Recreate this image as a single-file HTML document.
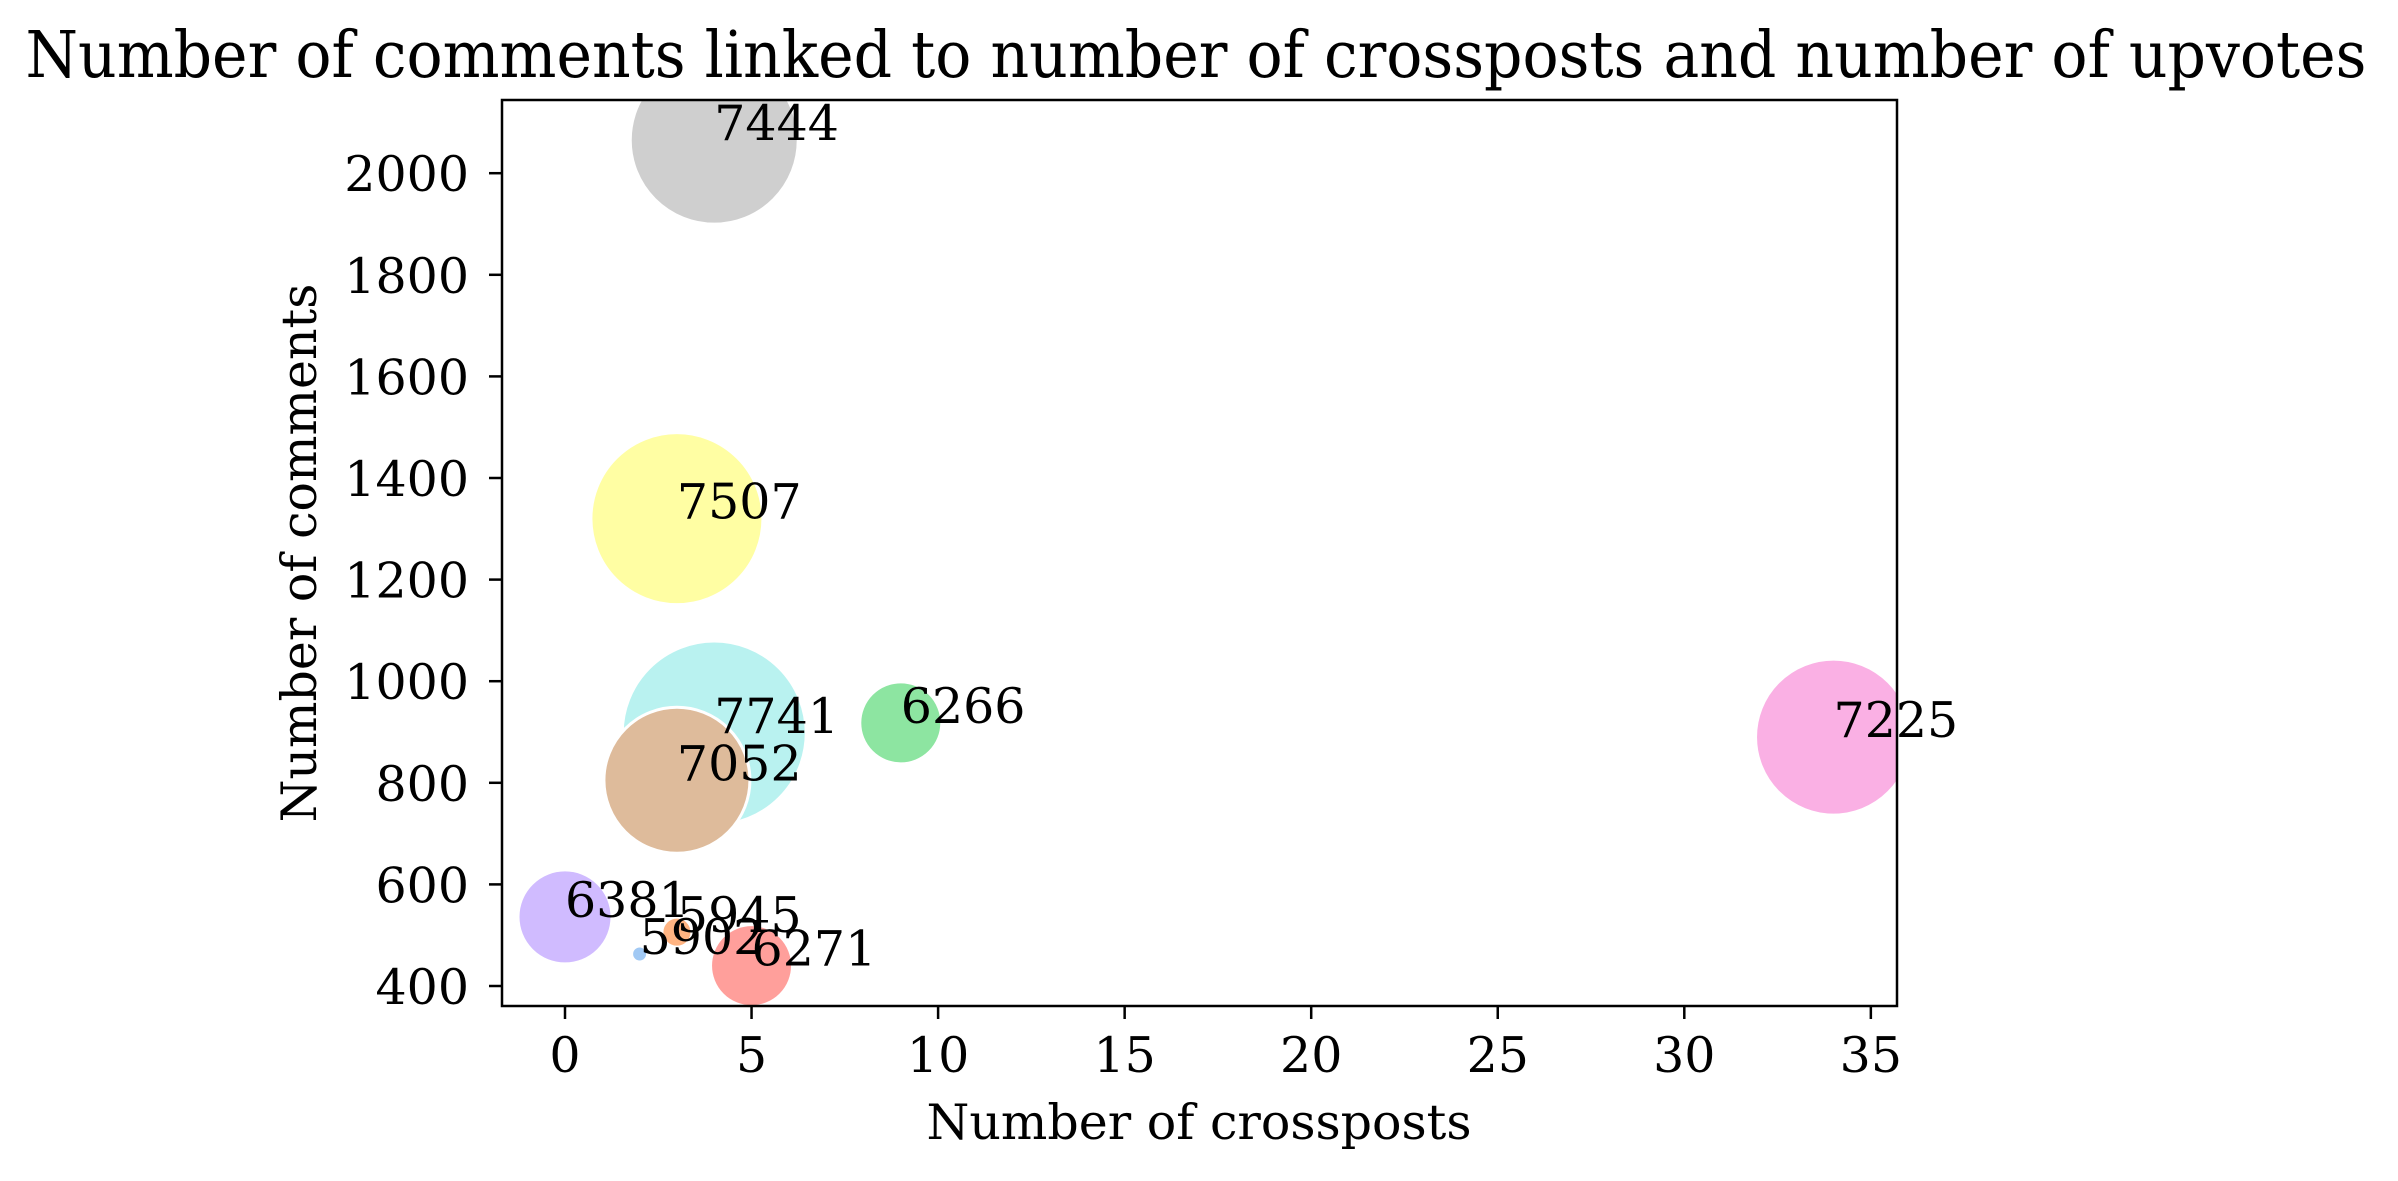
<!DOCTYPE html>
<html><head><meta charset="utf-8"><style>
html,body{margin:0;padding:0;background:#fff;width:2398px;height:1181px;overflow:hidden}
svg text{font-family:"DejaVu Serif","Liberation Serif",serif;fill:#000}
</style></head><body>
<svg id="chart" width="2398" height="1181" xmlns="http://www.w3.org/2000/svg">
<defs><clipPath id="plotclip"><rect x="502" y="100" width="1395" height="906"/></clipPath></defs>
<text x="1196" y="77" font-size="65" text-anchor="middle" textLength="2341" lengthAdjust="spacingAndGlyphs">Number of comments linked to number of crossposts and number of upvotes</text>
<g id="marks" clip-path="url(#plotclip)"></g>
<g id="labels"></g>
<rect x="502" y="100" width="1395" height="906" fill="none" stroke="#000" stroke-width="2.5"/>
<g id="xaxis"></g>
<g id="yaxis"></g>
<text x="1199" y="1139" font-size="49" text-anchor="middle">Number of crossposts</text>
<text x="0" y="0" font-size="49" text-anchor="middle" transform="translate(316,553) rotate(-90)">Number of comments</text>
</svg>
<script>
const labels = ["5902","5945","6266","6271","6381","7741","7052","7225","7444","7507"];
const crossposts = [2,3,9,5,0,4,3,34,4,3];
const comments = [463,506,918,440,536,898,805,890,2065,1320];
const radii = [8,15,41,41,47,92,73,78,84,86];
const colors = ["#a1c9f4","#ffb482","#8de5a1","#ff9f9b","#d0bbff","#b9f2f0","#debb9b","#fab0e4","#cfcfcf","#fffea3"];
const xTicks = [0,5,10,15,20,25,30,35];
const yTicks = [400,600,800,1000,1200,1400,1600,1800,2000];

const NS = "http://www.w3.org/2000/svg";
function xs(v){ return 565 + v*37.31; }
function ys(v){ return 986 - (v-400)*0.508; }
function mk(tag, attrs, parent){ const e=document.createElementNS(NS,tag); for(const k in attrs) e.setAttribute(k,attrs[k]); parent.appendChild(e); return e; }

const marks=document.getElementById('marks'), lab=document.getElementById('labels');
for(let i=0;i<labels.length;i++){
  const c=mk('circle',{cx:xs(crossposts[i]),cy:ys(comments[i]),r:radii[i],fill:colors[i],stroke:'#fff','stroke-width':3},marks);
  
  
}
for(let i=0;i<labels.length;i++){
  const t=mk('text',{x:xs(crossposts[i]),y:ys(comments[i]),'font-size':49},lab);
  t.textContent=labels[i];
  
  
}
const xa=document.getElementById('xaxis');
xTicks.forEach(v=>{
  const l=mk('line',{x1:xs(v),x2:xs(v),y1:1006,y2:1019,stroke:'#000','stroke-width':2.5},xa);
  
  
  const t=mk('text',{x:xs(v),y:1072,'font-size':49,'text-anchor':'middle'},xa);
  t.textContent=v;
  
  
});
const ya=document.getElementById('yaxis');
yTicks.forEach(v=>{
  const l=mk('line',{x1:489,x2:502,y1:ys(v),y2:ys(v),stroke:'#000','stroke-width':2.5},ya);
  
  
  const t=mk('text',{x:469,y:ys(v)+18,'font-size':49,'text-anchor':'end'},ya);
  t.textContent=v;
  
  
});
</script>
</body></html>
